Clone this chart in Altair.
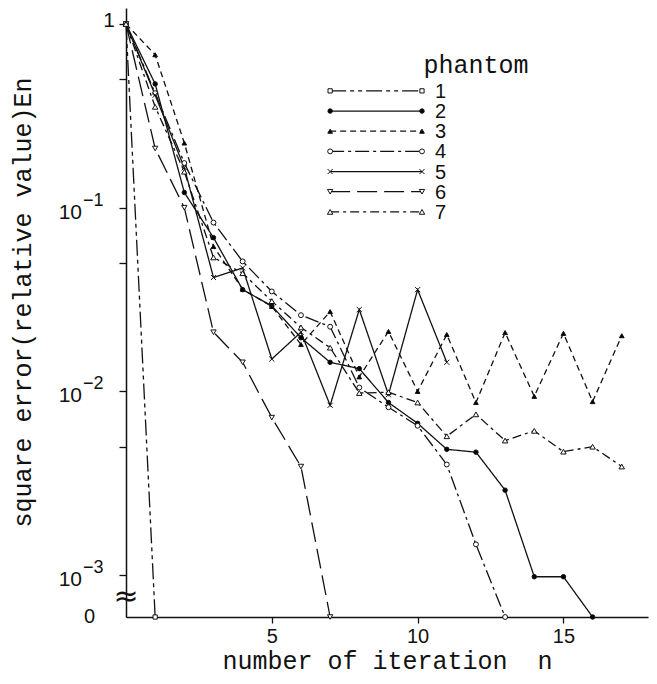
import math
import altair as alt
import pandas as pd

# ---------------- data ----------------
phantoms = ["1", "2", "3", "4", "5", "6", "7"]
phantom1 = [1.0, 0.0]
phantom2 = [1.0, 0.472, 0.121, 0.0687, 0.0358, 0.0292, 0.0196, 0.0144, 0.0133,
            0.0087, 0.0067, 0.00484, 0.00467, 0.0029, 0.00098, 0.00098, 0.0]
phantom3 = [1.0, 0.68, 0.225, 0.0615, 0.036, 0.029, 0.018, 0.0272, 0.012,
            0.0212, 0.010, 0.0204, 0.0087, 0.0209, 0.0094, 0.0207, 0.0088, 0.0201]
phantom4 = [1.0, 0.42, 0.175, 0.083, 0.051, 0.035, 0.026, 0.0225, 0.0105,
            0.0082, 0.0065, 0.0040, 0.00147, 0.0]
phantom5 = [1.0, 0.41, 0.165, 0.0417, 0.047, 0.015, 0.021, 0.0084, 0.0279,
            0.0096, 0.0358, 0.0144]
phantom6 = [1.0, 0.21, 0.1, 0.021, 0.0144, 0.0072, 0.0039, 0.0]
phantom7 = [1.0, 0.354, 0.157, 0.0536, 0.044, 0.031, 0.0223, 0.0173, 0.0098,
            0.0099, 0.0087, 0.0057, 0.0075, 0.0054, 0.0061, 0.0047, 0.0050, 0.0039]
series = [phantom1, phantom2, phantom3, phantom4, phantom5, phantom6, phantom7]

x_ticks = [5, 10, 15]
y_tick_vals = [1, 0.5, 0.1, 0.05, 0.01, 0.005, 0.001]

# ---------------- scale helpers ----------------
ZERO_LEVEL = -3.228          # where the broken axis puts "0"
Y_TOP = 0.087
X_MAX = 17.9

def to_level(v):
    return math.log10(v) if v > 0 else ZERO_LEVEL

rows = []
for name, vals in zip(phantoms, series):
    for n, v in enumerate(vals):
        rows.append({"phantom": name, "n": n, "value": v, "ly": to_level(v)})
df = pd.DataFrame(rows)

# ---------------- styles ----------------
dashes = [[16, 4, 4, 4, 4, 4], [1, 0], [6, 4], [14, 4, 3, 4], [1, 0], [20, 7], [9, 4, 3, 4]]
widths = [1.3, 1.3, 1.3, 1.3, 1.8, 1.8, 1.3]
cross = "M-1,-1L1,1M-1,1L1,-1"
shapes = ["square", "circle", "triangle-up", "circle", cross, "triangle-down", "triangle-up"]
fills = ["white", "black", "black", "white", "white", "white", "white"]
sizes = [18, 30, 36, 30, 26, 40, 40]
INK = "#111111"

dash_enc = alt.StrokeDash("phantom:N", scale=alt.Scale(domain=phantoms, range=dashes), legend=None)
width_enc = alt.StrokeWidth("phantom:N", scale=alt.Scale(domain=phantoms, range=widths), legend=None)
shape_enc = alt.Shape("phantom:N", scale=alt.Scale(domain=phantoms, range=shapes), legend=None)
fill_enc = alt.Fill("phantom:N", scale=alt.Scale(domain=phantoms, range=fills), legend=None)
size_enc = alt.Size("phantom:N", scale=alt.Scale(domain=phantoms, range=sizes), legend=None)

xs = alt.Scale(domain=[0, X_MAX], nice=False, zero=False)
ys = alt.Scale(domain=[ZERO_LEVEL, Y_TOP], nice=False, zero=False)

x_axis = alt.Axis(values=x_ticks, grid=False, tickSize=6, tickColor=INK, domainColor=INK,
                  domainWidth=1.5, tickWidth=1.3, labelFont="Liberation Sans", labelFontSize=20,
                  labelColor=INK, labelPadding=3,
                  title="number of iteration\u00a0 n", titleFont="Liberation Mono",
                  titleFontSize=25, titleFontWeight="normal", titleColor=INK,
                  titleBaseline="middle", titleY=43)
y_axis = alt.Axis(values=[math.log10(v) for v in y_tick_vals], labels=False, grid=False,
                  tickSize=7, tickColor=INK, tickWidth=1.3, domainColor=INK, domainWidth=1.5,
                  title="square error(relative value)En", titleFont="Liberation Mono",
                  titleFontSize=25, titleFontWeight="normal", titleColor=INK,
                  titleAngle=-90, titleBaseline="middle", titleAlign="center",
                  titleX=-104, titleY=294)

lines = alt.Chart(df).mark_line(color=INK, strokeCap="butt").encode(
    x=alt.X("n:Q", scale=xs, axis=x_axis),
    y=alt.Y("ly:Q", scale=ys, axis=y_axis),
    strokeDash=dash_enc, strokeWidth=width_enc, detail="phantom:N",
    order="n:Q",
)
points = alt.Chart(df).mark_point(filled=True, stroke=INK, strokeWidth=1, opacity=1).encode(
    x=alt.X("n:Q", scale=xs), y=alt.Y("ly:Q", scale=ys),
    shape=shape_enc, fill=fill_enc, size=size_enc,
)

# ---------------- y tick labels (10 with exponents) ----------------
base_df = pd.DataFrame({"ly": [-1, -2, -3], "t": ["10", "10", "10"]})
exp_df = pd.DataFrame({"ly": [-1, -2, -3], "t": ["\u22121", "\u22122", "\u22123"]})
one_df = pd.DataFrame({"ly": [0.0], "t": ["1"]})
zero_df = pd.DataFrame({"ly": [ZERO_LEVEL], "t": ["0"]})
brk_df = pd.DataFrame({"ly": [-3.12], "t": ["\u2248"]})

lab_base = alt.Chart(base_df).mark_text(align="right", baseline="middle", dy=5, font="Liberation Sans",
                                        fontSize=21, color=INK).encode(
    x=alt.value(-44), y=alt.Y("ly:Q", scale=ys), text="t:N")
lab_exp = alt.Chart(exp_df).mark_text(align="left", baseline="middle", dy=-7, font="Liberation Sans",
                                      fontSize=18, color=INK).encode(
    x=alt.value(-43), y=alt.Y("ly:Q", scale=ys), text="t:N")
lab_one = alt.Chart(one_df).mark_text(align="right", baseline="middle", dy=-3, font="Liberation Sans",
                                      fontSize=21, color=INK).encode(
    x=alt.value(-11), y=alt.Y("ly:Q", scale=ys), text="t:N")
lab_zero = alt.Chart(zero_df).mark_text(align="right", baseline="middle", dy=0, font="Liberation Sans",
                                        fontSize=20, color=INK).encode(
    x=alt.value(-31), y=alt.Y("ly:Q", scale=ys), text="t:N")
brk = alt.Chart(brk_df).mark_text(align="center", baseline="middle", font="DejaVu Sans",
                                  fontSize=30, color=INK).encode(
    x=alt.value(0), y=alt.Y("ly:Q", scale=ys), text="t:N")

# ---------------- custom legend ----------------
LEG_X0, LEG_X1, LEG_NUM_X = 7.0, 10.15, 10.6
leg_rows = []
leg_pts = []
for i, name in enumerate(phantoms):
    py = 91 + 20.2 * i
    ly = -(py - 24) / 184.0
    leg_rows.append({"phantom": name, "x0": LEG_X0, "x1": LEG_X1, "ly": ly, "num": name, "xn": LEG_NUM_X})
    leg_pts.append({"phantom": name, "n": LEG_X0, "ly": ly})
    leg_pts.append({"phantom": name, "n": LEG_X1, "ly": ly})
leg_df = pd.DataFrame(leg_rows)
leg_pts_df = pd.DataFrame(leg_pts)

leg_lines = alt.Chart(leg_df).mark_rule(color=INK, strokeCap="butt").encode(
    x=alt.X("x0:Q", scale=xs), x2="x1:Q", y=alt.Y("ly:Q", scale=ys),
    strokeDash=dash_enc, strokeWidth=width_enc,
)
leg_points = alt.Chart(leg_pts_df).mark_point(filled=True, stroke=INK, strokeWidth=1, opacity=1).encode(
    x=alt.X("n:Q", scale=xs), y=alt.Y("ly:Q", scale=ys),
    shape=shape_enc, fill=fill_enc, size=size_enc,
)
leg_nums = alt.Chart(leg_df).mark_text(align="left", baseline="middle", font="Liberation Sans",
                                       fontSize=20, color=INK, dy=1).encode(
    x=alt.X("xn:Q", scale=xs), y=alt.Y("ly:Q", scale=ys), text="num:N")
leg_title_df = pd.DataFrame({"n": [12.0], "ly": [-(65 - 24) / 184.0], "t": ["phantom"]})
leg_title = alt.Chart(leg_title_df).mark_text(align="center", baseline="middle", font="Liberation Mono",
                                              fontSize=25, color=INK).encode(
    x=alt.X("n:Q", scale=xs), y=alt.Y("ly:Q", scale=ys), text="t:N")

chart = alt.layer(
    lines, points, lab_base, lab_exp, lab_one, lab_zero, brk,
    leg_lines, leg_points, leg_nums, leg_title,
).properties(
    width=522, height=609,
    autosize=alt.AutoSizeParams(type="none"),
    padding={"left": 118, "top": 0, "right": 1, "bottom": 59},
    background="white",
).configure_view(stroke=None)

chart.save("out.html", embed_options={"renderer": "svg", "actions": False})
